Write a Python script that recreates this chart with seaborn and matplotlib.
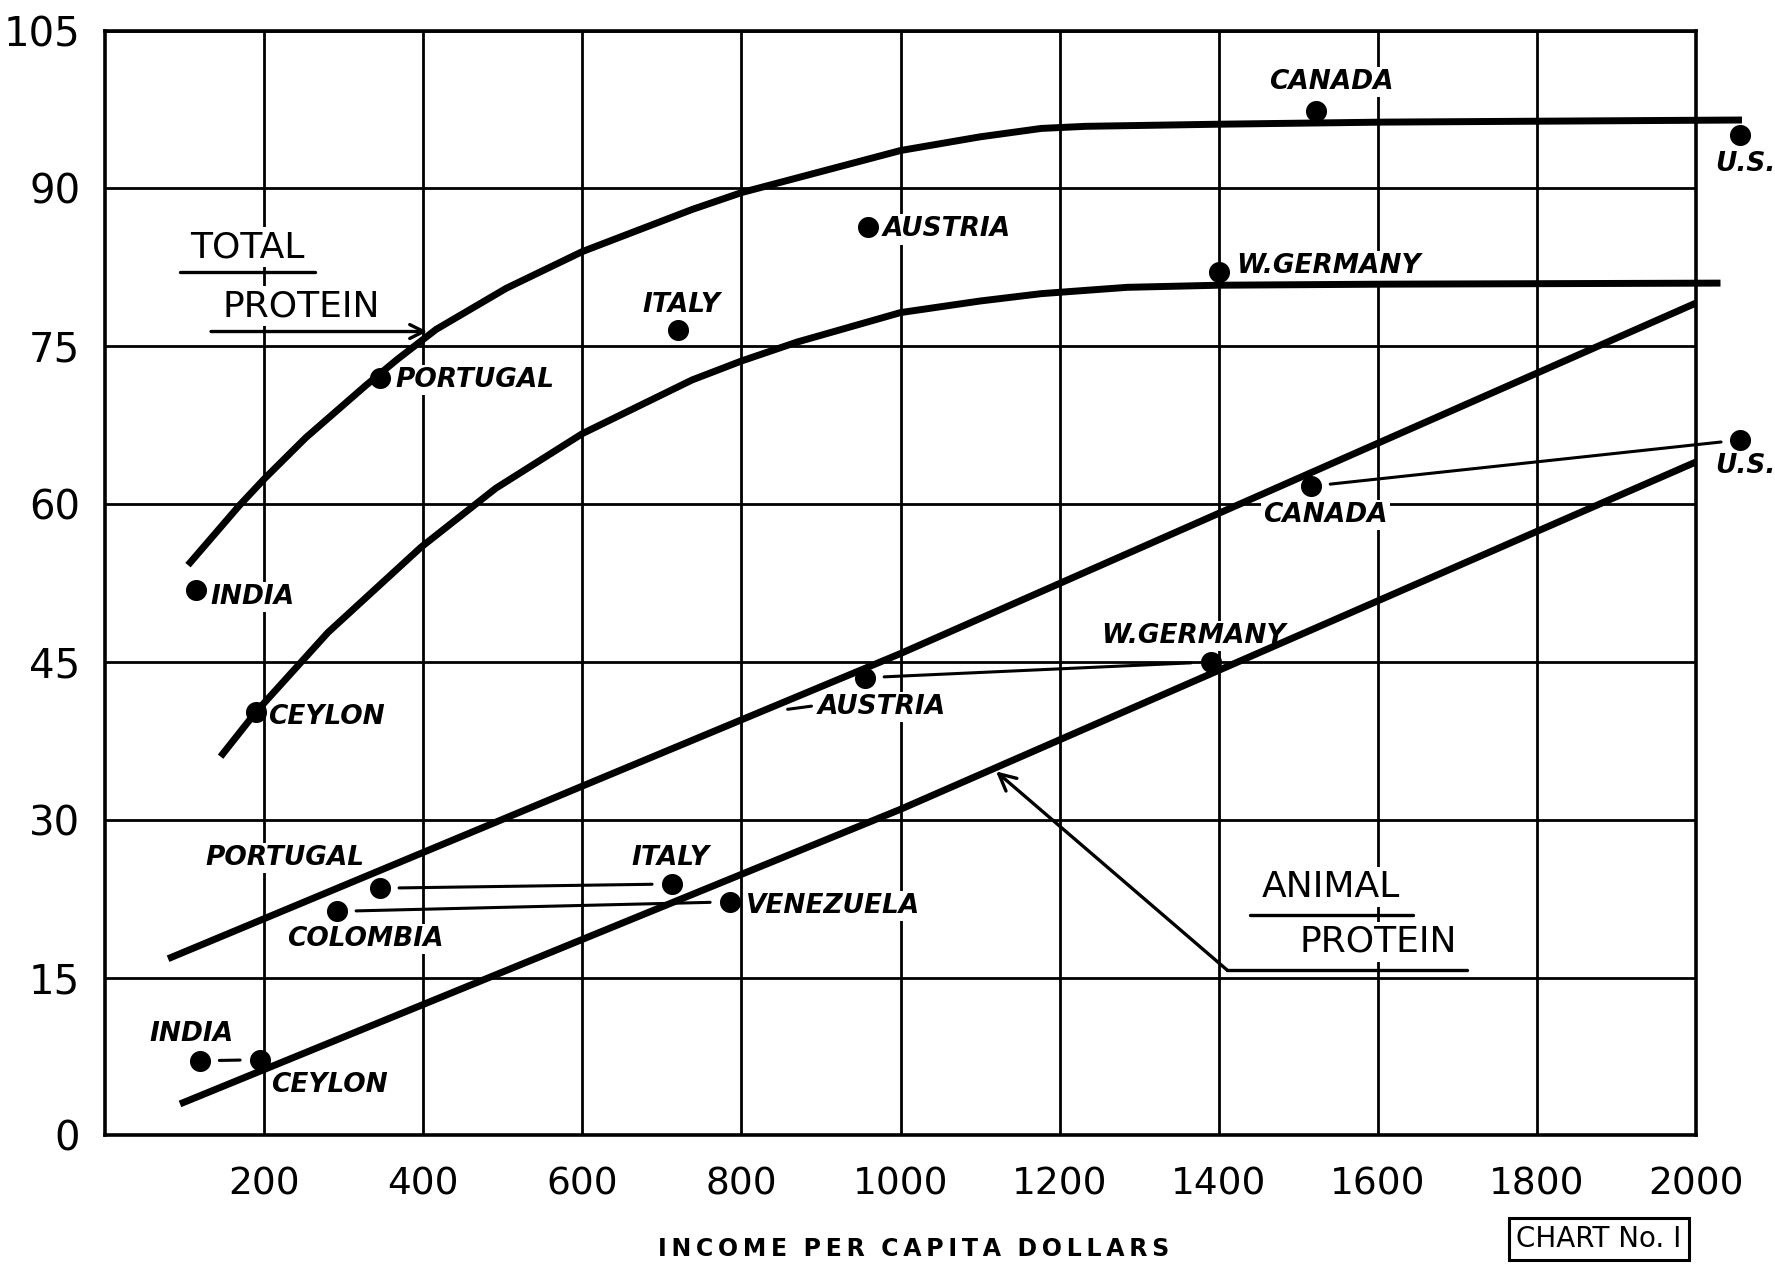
import matplotlib
matplotlib.use("Agg")
import matplotlib.pyplot as plt
import seaborn as sns
import pandas as pd

# ---------------- data ----------------
total_countries = ["INDIA", "CEYLON", "PORTUGAL", "ITALY", "AUSTRIA", "W.GERMANY", "CANADA", "U.S."]
total_income = [114, 189, 345, 720, 959, 1400, 1522, 2056]
total_protein = [51.8, 40.2, 72.0, 76.5, 86.3, 82.1, 97.4, 95.1]

animal_countries = ["INDIA", "CEYLON", "COLOMBIA", "PORTUGAL", "ITALY", "VENEZUELA",
                    "AUSTRIA", "W.GERMANY", "CANADA", "U.S."]
animal_income = [119, 194, 291, 345, 712, 785, 955, 1390, 1516, 2056]
animal_protein = [7.1, 7.2, 21.3, 23.5, 23.9, 22.2, 43.5, 45.0, 61.7, 66.1]

# fitted curves as drawn on the chart
total_upper_x = [104, 169, 200, 252, 328, 368, 416, 504, 600, 738, 800, 870, 1000,
                 1100, 1177, 1233, 1400, 1608, 2058]
total_upper_y = [54.2, 59.9, 62.4, 66.3, 71.3, 73.8, 76.6, 80.5, 84.0, 88.0, 89.6, 91.0, 93.6,
                 94.9, 95.7, 95.9, 96.1, 96.3, 96.5]
total_lower_x = [145, 189, 280, 397, 491, 600, 738, 800, 870, 1000, 1100, 1177, 1285,
                 1400, 1608, 2031]
total_lower_y = [36.0, 40.2, 47.8, 55.9, 61.5, 66.7, 71.8, 73.6, 75.4, 78.2, 79.3, 80.0, 80.6,
                 80.8, 80.9, 81.0]
animal_upper_x = [79, 1000, 2000]
animal_upper_y = [16.8, 45.8, 79.1]
animal_lower_x = [94, 1000, 2000]
animal_lower_y = [3.0, 31.0, 64.0]

# pairs joined by thin connector lines (indices into animal arrays)
animal_pairs = [(0, 1), (3, 4), (2, 5), (6, 7), (8, 9)]

x_ticks = [200, 400, 600, 800, 1000, 1200, 1400, 1600, 1800, 2000]
y_ticks = [0, 15, 30, 45, 60, 75, 90, 105]

# label placement: (x, y, ha)
total_label_pos = [(132, 51.2, "left"), (205, 39.8, "left"), (365, 71.8, "left"),
                   (724, 78.9, "center"), (977, 86.1, "left"), (1422, 82.6, "left"),
                   (1542, 100.1, "center"), (2024, 92.3, "left")]
animal_label_pos = [(108, 9.6, "center"), (209, 4.8, "left"), (229, 18.7, "left"),
                    (126, 26.4, "left"), (711, 26.4, "center"), (806, 21.8, "left"),
                    (896, 40.7, "left"), (1368, 47.5, "center"), (1534, 59.0, "center"),
                    (2024, 63.6, "left")]

# ---------------- plot ----------------
sns.set_style("white")
plt.rcParams['font.family'] = ['DejaVu Sans']
plt.rcParams['text.color'] = 'black'
plt.rcParams['xtick.color'] = 'black'
plt.rcParams['ytick.color'] = 'black'

fig = plt.figure(figsize=(17.75, 12.68), dpi=100)
ax = fig.add_axes([0.0593, 0.1045, 0.8961, 0.8714])

ax.set_xlim(0, 2000)
ax.set_ylim(0, 105)
ax.set_xticks(x_ticks)
ax.set_yticks(y_ticks)
ax.set_xticklabels([str(v) for v in x_ticks], fontsize=27)
ax.set_yticklabels([str(v) for v in y_ticks], fontsize=29)
ax.tick_params(axis='both', length=0, labelcolor='black')
ax.tick_params(axis='x', pad=22)
ax.tick_params(axis='y', pad=18)
ax.grid(True, color='black', linewidth=2.0)
ax.set_axisbelow(True)
for s in ax.spines.values():
    s.set_color('black')
    s.set_linewidth(2.6)

curve_kw = dict(color='black', linewidth=5, ax=ax, sort=False, legend=False, zorder=5)
for cx, cy in [(total_upper_x, total_upper_y), (total_lower_x, total_lower_y),
               (animal_upper_x, animal_upper_y), (animal_lower_x, animal_lower_y)]:
    sns.lineplot(x=cx, y=cy, **curve_kw)
for line in ax.lines:
    line.set_clip_on(False)
    line.set_solid_capstyle('butt')
    line.set_solid_joinstyle('round')

# connector lines
for i, j in animal_pairs:
    ax.annotate("", xy=(animal_income[j], animal_protein[j]),
                xytext=(animal_income[i], animal_protein[i]),
                arrowprops=dict(arrowstyle='-', color='black', lw=2.2,
                                shrinkA=14, shrinkB=14), zorder=4,
                annotation_clip=False)

df_total = pd.DataFrame({"income": total_income, "protein": total_protein})
df_animal = pd.DataFrame({"income": animal_income, "protein": animal_protein})
for d in (df_total, df_animal):
    sns.scatterplot(data=d, x="income", y="protein", color='black', s=230,
                    edgecolor='black', linewidth=0, ax=ax, zorder=6, legend=False)
for c in ax.collections:
    c.set_clip_on(False)

lab_kw = dict(fontsize=19, fontweight='bold', style='italic', va='center', zorder=3,
              color='black', bbox=dict(facecolor='white', edgecolor='none', pad=1.5))
for name, (lx, ly, ha) in zip(total_countries, total_label_pos):
    ax.text(lx, ly, name, ha=ha, clip_on=False, **lab_kw)
for name, (lx, ly, ha) in zip(animal_countries, animal_label_pos):
    ax.text(lx, ly, name, ha=ha, clip_on=False, **lab_kw)
# small pointer dash before the animal AUSTRIA label
ax.plot([858, 888], [40.5, 40.8], color='black', lw=2.2, zorder=4)

big_kw = dict(fontsize=26, ha='center', va='center', zorder=3, color='black',
              bbox=dict(facecolor='white', edgecolor='none', pad=2))
ax.text(179, 84.4, "TOTAL", **big_kw)
ax.text(246, 78.8, "PROTEIN", **big_kw)
ax.text(1541, 23.6, "ANIMAL", **big_kw)
ax.text(1601, 18.4, "PROTEIN", **big_kw)

# underlines / pointers
ax.plot([94, 264], [82.1, 82.1], color='black', lw=2.4, zorder=4)
ax.annotate("", xy=(405, 76.4), xytext=(133, 76.4),
            arrowprops=dict(arrowstyle='->', color='black', lw=2.4, mutation_scale=25,
                            shrinkA=0, shrinkB=0), zorder=4)
ax.plot([1439, 1644], [21.0, 21.0], color='black', lw=2.4, zorder=4)
ax.plot([1411, 1712], [15.7, 15.7], color='black', lw=2.4, zorder=4)
ax.annotate("", xy=(1120, 34.6), xytext=(1411, 15.7),
            arrowprops=dict(arrowstyle='->', color='black', lw=2.4, mutation_scale=30,
                            shrinkA=0, shrinkB=0), zorder=4)

ax.set_xlabel("")
ax.set_ylabel("")
xlabel = "\u2009".join("INCOME") + "  " + "\u2009".join("PER") + "  " + \
         "\u2009".join("CAPITA") + "  " + "\u2009".join("DOLLARS")
fig.text(0.515, 0.015, xlabel, ha='center', va='center', fontsize=17,
         fontweight='bold', color='black')
fig.text(0.9008, 0.023, "CHART No. I", ha='center', va='center', fontsize=20,
         color='black',
         bbox=dict(facecolor='white', edgecolor='black', linewidth=2.2, pad=5))

fig.savefig("out.png", dpi=100, facecolor='white')
